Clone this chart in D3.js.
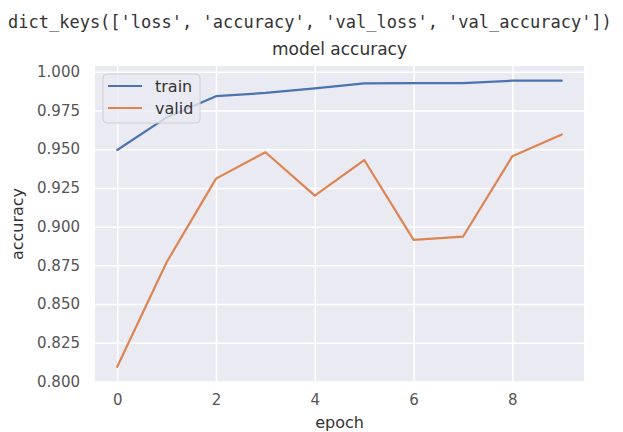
<!DOCTYPE html>
<html>
<head>
<meta charset="utf-8">
<script src="https://cdn.jsdelivr.net/npm/d3@7"></script>
<style>
  body { margin: 0; background: #fff; }
  svg { display: block; }
  .tick text { font-family: "DejaVu Sans", sans-serif; font-size: 15px; fill: #555; }
</style>
</head>
<body>
<svg id="chart" width="623" height="432"></svg>
<script>
'use strict';

// values
let epochs = [0, 1, 2, 3, 4, 5, 6, 7, 8, 9];
let trainAcc = [0.9495, 0.9705, 0.9842, 0.9863, 0.9893, 0.9925, 0.9926, 0.9927, 0.9942, 0.9943];
let validAcc = [0.8095, 0.8770, 0.9310, 0.9480, 0.9200, 0.9430, 0.8915, 0.8935, 0.9455, 0.9595];
let yTicks = [0.800, 0.825, 0.850, 0.875, 0.900, 0.925, 0.950, 0.975, 1.000];
let xTicks = [0, 2, 4, 6, 8];
let seriesNames = ['train', 'valid'];
let seriesColors = ['#4c72b0', '#dd8452'];

let svg = d3.select('#chart');

let plotLeft = 95;
let plotRight = 584;
let plotTop = 66;
let plotBottom = 382;

let x = d3.scaleLinear().domain([-0.45, 9.45]).range([plotLeft, plotRight]);
let y = d3.scaleLinear().domain([0.7997, 1.0037]).range([plotBottom, plotTop]);

// header line printed above the figure
svg.append('text')
  .attr('x', 8)
  .attr('y', 28)
  .attr('font-family', '"DejaVu Sans Mono", monospace')
  .attr('font-size', '17px')
  .attr('fill', '#333')
  .text("dict_keys(['loss', 'accuracy', 'val_loss', 'val_accuracy'])");

// axes background
svg.append('rect')
  .attr('x', plotLeft)
  .attr('y', plotTop)
  .attr('width', plotRight - plotLeft)
  .attr('height', plotBottom - plotTop)
  .attr('fill', '#eaeaf2');

// y axis + horizontal grid
let yAxis = svg.append('g')
  .attr('transform', 'translate(' + plotLeft + ',0)')
  .call(d3.axisLeft(y)
    .tickValues(yTicks)
    .tickFormat(d3.format('.3f'))
    .tickSize(-(plotRight - plotLeft))
    .tickPadding(15));
yAxis.select('.domain').remove();
yAxis.selectAll('.tick line').attr('stroke', '#fff').attr('stroke-width', 1.5);

// x axis + vertical grid
let xAxis = svg.append('g')
  .attr('transform', 'translate(0,' + plotBottom + ')')
  .call(d3.axisBottom(x)
    .tickValues(xTicks)
    .tickFormat(d3.format('d'))
    .tickSize(-(plotBottom - plotTop))
    .tickPadding(12));
xAxis.select('.domain').remove();
xAxis.selectAll('.tick line').attr('stroke', '#fff').attr('stroke-width', 1.5);

// lines
let line = d3.line()
  .x(function(d, i) { return x(epochs[i]); })
  .y(function(d) { return y(d); });

[trainAcc, validAcc].forEach(function(series, i) {
  svg.append('path')
    .datum(series)
    .attr('d', line)
    .attr('fill', 'none')
    .attr('stroke', seriesColors[i])
    .attr('stroke-width', 2.2)
    .attr('stroke-linejoin', 'round')
    .attr('stroke-linecap', 'round');
});

// title and axis labels
svg.append('text')
  .attr('x', (plotLeft + plotRight) / 2)
  .attr('y', 55)
  .attr('text-anchor', 'middle')
  .attr('font-family', '"DejaVu Sans", sans-serif')
  .attr('font-size', '17px')
  .attr('fill', '#333')
  .text('model accuracy');

svg.append('text')
  .attr('x', (plotLeft + plotRight) / 2)
  .attr('y', 428)
  .attr('text-anchor', 'middle')
  .attr('font-family', '"DejaVu Sans", sans-serif')
  .attr('font-size', '16px')
  .attr('fill', '#333')
  .text('epoch');

svg.append('text')
  .attr('transform', 'translate(23,' + (plotTop + plotBottom) / 2 + ') rotate(-90)')
  .attr('text-anchor', 'middle')
  .attr('font-family', '"DejaVu Sans", sans-serif')
  .attr('font-size', '16px')
  .attr('fill', '#333')
  .text('accuracy');

// legend
let legend = svg.append('g').attr('transform', 'translate(103,74)');
legend.append('rect')
  .attr('width', 97)
  .attr('height', 49)
  .attr('rx', 4)
  .attr('fill', '#eaeaf2')
  .attr('fill-opacity', 0.8)
  .attr('stroke', '#d0d0d0')
  .attr('stroke-width', 1);

seriesNames.forEach(function(name, i) {
  let row = legend.append('g').attr('transform', 'translate(0,' + (12 + i * 22) + ')');
  row.append('line')
    .attr('x1', 5)
    .attr('x2', 39)
    .attr('stroke', seriesColors[i])
    .attr('stroke-width', 2.2);
  row.append('text')
    .attr('x', 52)
    .attr('dy', '0.35em')
    .attr('font-family', '"DejaVu Sans", sans-serif')
    .attr('font-size', '16px')
    .attr('fill', '#333')
    .text(name);
});
</script>
</body>
</html>
